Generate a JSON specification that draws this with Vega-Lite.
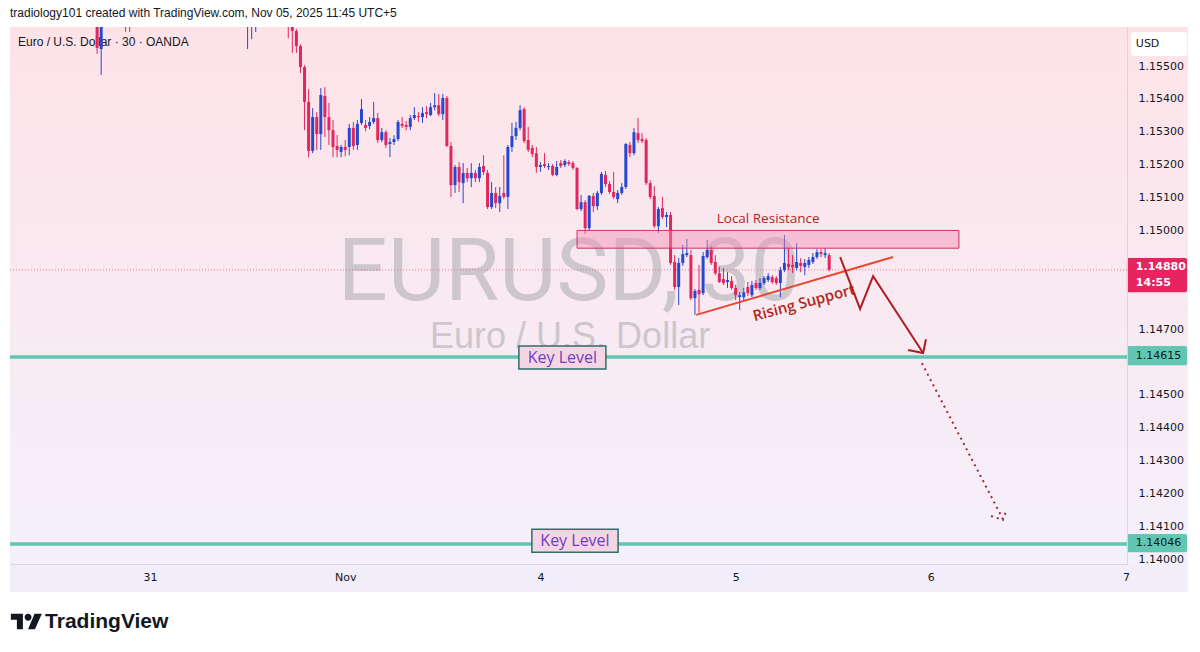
{
  "$schema": "https://vega.github.io/schema/vega-lite/v6.json",
  "width": 1117,
  "height": 537,
  "autosize": {"type": "none"},
  "padding": {"left": 10, "top": 27, "right": 73, "bottom": 88},
  "background": "#ffffff",
  "config": {"view": {"stroke": null}},
  "title": {"text": "tradiology101 created with TradingView.com, Nov 05, 2025 11:45 UTC+5", "anchor": "start", "frame": "group", "offset": 7, "fontSize": 12, "fontWeight": "normal", "font": "Liberation Sans", "color": "#131722"},
  "datasets": {
    "candles": [
      {"i": -13, "o": 1.1564, "h": 1.1566, "l": 1.15537, "c": 1.15555},
      {"i": -12, "o": 1.15552, "h": 1.1566, "l": 1.15473, "c": 1.1564},
      {"i": -6, "o": 1.1567, "h": 1.1569, "l": 1.15604, "c": 1.1565},
      {"i": -5, "o": 1.1568, "h": 1.157, "l": 1.15604, "c": 1.1566},
      {"i": 24, "o": 1.1564, "h": 1.1569, "l": 1.15552, "c": 1.1567},
      {"i": 25, "o": 1.1565, "h": 1.157, "l": 1.15582, "c": 1.1568},
      {"i": 26, "o": 1.1566, "h": 1.157, "l": 1.15604, "c": 1.1568},
      {"i": 34, "o": 1.1568, "h": 1.157, "l": 1.15585, "c": 1.15622},
      {"i": 35, "o": 1.15622, "h": 1.15634, "l": 1.1554, "c": 1.15607},
      {"i": 36, "o": 1.15607, "h": 1.15613, "l": 1.1554, "c": 1.15561},
      {"i": 37, "o": 1.15561, "h": 1.15567, "l": 1.15479, "c": 1.15497},
      {"i": 38, "o": 1.15497, "h": 1.15503, "l": 1.15305, "c": 1.15391},
      {"i": 39, "o": 1.15391, "h": 1.1543, "l": 1.15223, "c": 1.15242},
      {"i": 40, "o": 1.15242, "h": 1.15372, "l": 1.15235, "c": 1.15345},
      {"i": 41, "o": 1.15345, "h": 1.1536, "l": 1.15245, "c": 1.15293},
      {"i": 42, "o": 1.15293, "h": 1.15433, "l": 1.15245, "c": 1.15412},
      {"i": 43, "o": 1.15409, "h": 1.15436, "l": 1.15284, "c": 1.15345},
      {"i": 44, "o": 1.15345, "h": 1.15388, "l": 1.1526, "c": 1.15305},
      {"i": 45, "o": 1.15305, "h": 1.15336, "l": 1.15223, "c": 1.15254},
      {"i": 46, "o": 1.15257, "h": 1.1529, "l": 1.15223, "c": 1.15245},
      {"i": 47, "o": 1.15239, "h": 1.1526, "l": 1.15223, "c": 1.15254},
      {"i": 48, "o": 1.15254, "h": 1.15275, "l": 1.15226, "c": 1.15245},
      {"i": 49, "o": 1.15254, "h": 1.15324, "l": 1.15229, "c": 1.15312},
      {"i": 50, "o": 1.15312, "h": 1.1533, "l": 1.15245, "c": 1.15257},
      {"i": 51, "o": 1.1526, "h": 1.15336, "l": 1.15245, "c": 1.15324},
      {"i": 52, "o": 1.15327, "h": 1.154, "l": 1.15321, "c": 1.15369},
      {"i": 53, "o": 1.15321, "h": 1.15336, "l": 1.15302, "c": 1.15312},
      {"i": 54, "o": 1.15318, "h": 1.15345, "l": 1.15308, "c": 1.1533},
      {"i": 55, "o": 1.1533, "h": 1.15391, "l": 1.15324, "c": 1.15342},
      {"i": 56, "o": 1.15342, "h": 1.15357, "l": 1.15266, "c": 1.15275},
      {"i": 57, "o": 1.15275, "h": 1.15312, "l": 1.15269, "c": 1.15299},
      {"i": 58, "o": 1.15299, "h": 1.15305, "l": 1.15251, "c": 1.1526},
      {"i": 59, "o": 1.15263, "h": 1.15281, "l": 1.15223, "c": 1.15269},
      {"i": 60, "o": 1.15269, "h": 1.1529, "l": 1.1526, "c": 1.15278},
      {"i": 61, "o": 1.15278, "h": 1.15336, "l": 1.15272, "c": 1.1533},
      {"i": 62, "o": 1.15324, "h": 1.15345, "l": 1.15312, "c": 1.15318},
      {"i": 63, "o": 1.15321, "h": 1.15333, "l": 1.15305, "c": 1.15315},
      {"i": 64, "o": 1.15315, "h": 1.15351, "l": 1.15305, "c": 1.15342},
      {"i": 65, "o": 1.15342, "h": 1.15375, "l": 1.15336, "c": 1.15351},
      {"i": 66, "o": 1.15348, "h": 1.1536, "l": 1.1533, "c": 1.15345},
      {"i": 67, "o": 1.15345, "h": 1.15375, "l": 1.15327, "c": 1.15357},
      {"i": 68, "o": 1.1536, "h": 1.15378, "l": 1.15342, "c": 1.15354},
      {"i": 69, "o": 1.15351, "h": 1.15388, "l": 1.15348, "c": 1.15375},
      {"i": 70, "o": 1.15375, "h": 1.15418, "l": 1.15366, "c": 1.15381},
      {"i": 71, "o": 1.15381, "h": 1.15415, "l": 1.15348, "c": 1.15354},
      {"i": 72, "o": 1.15354, "h": 1.15415, "l": 1.15336, "c": 1.15403},
      {"i": 73, "o": 1.15403, "h": 1.15409, "l": 1.15254, "c": 1.15257},
      {"i": 74, "o": 1.15257, "h": 1.15269, "l": 1.15102, "c": 1.15138},
      {"i": 75, "o": 1.15138, "h": 1.15199, "l": 1.15114, "c": 1.15193},
      {"i": 76, "o": 1.15193, "h": 1.15208, "l": 1.15117, "c": 1.15147},
      {"i": 77, "o": 1.15144, "h": 1.15205, "l": 1.15083, "c": 1.15175},
      {"i": 78, "o": 1.15175, "h": 1.1519, "l": 1.15147, "c": 1.15159},
      {"i": 79, "o": 1.15159, "h": 1.15205, "l": 1.15132, "c": 1.15175},
      {"i": 80, "o": 1.15175, "h": 1.15184, "l": 1.15147, "c": 1.15159},
      {"i": 81, "o": 1.15159, "h": 1.15205, "l": 1.15147, "c": 1.15193},
      {"i": 82, "o": 1.15196, "h": 1.15229, "l": 1.15169, "c": 1.15178},
      {"i": 83, "o": 1.15175, "h": 1.15184, "l": 1.15065, "c": 1.15071},
      {"i": 84, "o": 1.15071, "h": 1.15147, "l": 1.15065, "c": 1.15114},
      {"i": 85, "o": 1.15114, "h": 1.15132, "l": 1.15068, "c": 1.15083},
      {"i": 86, "o": 1.15083, "h": 1.15132, "l": 1.15056, "c": 1.15105},
      {"i": 87, "o": 1.15114, "h": 1.15229, "l": 1.15095, "c": 1.15102},
      {"i": 88, "o": 1.15102, "h": 1.1526, "l": 1.15065, "c": 1.15254},
      {"i": 89, "o": 1.15254, "h": 1.15327, "l": 1.15239, "c": 1.15287},
      {"i": 90, "o": 1.15287, "h": 1.1533, "l": 1.15275, "c": 1.15312},
      {"i": 91, "o": 1.15312, "h": 1.15381, "l": 1.15305, "c": 1.15366},
      {"i": 92, "o": 1.15369, "h": 1.15375, "l": 1.15266, "c": 1.15272},
      {"i": 93, "o": 1.15275, "h": 1.15315, "l": 1.15239, "c": 1.15245},
      {"i": 94, "o": 1.15251, "h": 1.1526, "l": 1.15223, "c": 1.15232},
      {"i": 95, "o": 1.15235, "h": 1.15254, "l": 1.15175, "c": 1.15193},
      {"i": 96, "o": 1.15193, "h": 1.15208, "l": 1.15178, "c": 1.15199},
      {"i": 97, "o": 1.15202, "h": 1.15235, "l": 1.1519, "c": 1.15196},
      {"i": 98, "o": 1.15193, "h": 1.15205, "l": 1.15184, "c": 1.15196},
      {"i": 99, "o": 1.15196, "h": 1.15202, "l": 1.15165, "c": 1.15169},
      {"i": 100, "o": 1.15169, "h": 1.15211, "l": 1.15165, "c": 1.15193},
      {"i": 101, "o": 1.15205, "h": 1.15214, "l": 1.1519, "c": 1.15196},
      {"i": 102, "o": 1.15199, "h": 1.15217, "l": 1.15193, "c": 1.15211},
      {"i": 103, "o": 1.15208, "h": 1.15214, "l": 1.15196, "c": 1.15202},
      {"i": 104, "o": 1.15205, "h": 1.15211, "l": 1.15184, "c": 1.1519},
      {"i": 105, "o": 1.1519, "h": 1.15193, "l": 1.15062, "c": 1.15065},
      {"i": 106, "o": 1.15065, "h": 1.15108, "l": 1.15059, "c": 1.15086},
      {"i": 107, "o": 1.15086, "h": 1.15092, "l": 1.14989, "c": 1.15007},
      {"i": 108, "o": 1.15007, "h": 1.15108, "l": 1.15001, "c": 1.15105},
      {"i": 109, "o": 1.15105, "h": 1.15114, "l": 1.15056, "c": 1.15074},
      {"i": 110, "o": 1.15074, "h": 1.1512, "l": 1.15062, "c": 1.15114},
      {"i": 111, "o": 1.15114, "h": 1.15178, "l": 1.15108, "c": 1.15172},
      {"i": 112, "o": 1.15169, "h": 1.15181, "l": 1.15132, "c": 1.15141},
      {"i": 113, "o": 1.15141, "h": 1.1515, "l": 1.15111, "c": 1.15117},
      {"i": 114, "o": 1.15117, "h": 1.15178, "l": 1.15095, "c": 1.15102},
      {"i": 115, "o": 1.15095, "h": 1.15123, "l": 1.15083, "c": 1.15114},
      {"i": 116, "o": 1.15114, "h": 1.15144, "l": 1.15108, "c": 1.15132},
      {"i": 117, "o": 1.15132, "h": 1.15266, "l": 1.15126, "c": 1.15263},
      {"i": 118, "o": 1.1526, "h": 1.15269, "l": 1.15223, "c": 1.15235},
      {"i": 119, "o": 1.15235, "h": 1.15312, "l": 1.15229, "c": 1.15299},
      {"i": 120, "o": 1.15296, "h": 1.15342, "l": 1.15266, "c": 1.15275},
      {"i": 121, "o": 1.15278, "h": 1.15296, "l": 1.15266, "c": 1.15272},
      {"i": 122, "o": 1.15275, "h": 1.15281, "l": 1.15138, "c": 1.15144},
      {"i": 123, "o": 1.15144, "h": 1.15153, "l": 1.15095, "c": 1.15102},
      {"i": 124, "o": 1.15105, "h": 1.15135, "l": 1.15007, "c": 1.15013},
      {"i": 125, "o": 1.15013, "h": 1.15071, "l": 1.14992, "c": 1.15065},
      {"i": 126, "o": 1.15068, "h": 1.15102, "l": 1.15035, "c": 1.15041},
      {"i": 127, "o": 1.15041, "h": 1.15056, "l": 1.1501, "c": 1.15047},
      {"i": 128, "o": 1.15047, "h": 1.15056, "l": 1.14895, "c": 1.14901},
      {"i": 129, "o": 1.14904, "h": 1.14925, "l": 1.14819, "c": 1.14828},
      {"i": 130, "o": 1.14828, "h": 1.14916, "l": 1.14773, "c": 1.14901},
      {"i": 131, "o": 1.14901, "h": 1.14956, "l": 1.14892, "c": 1.14928},
      {"i": 132, "o": 1.14925, "h": 1.14974, "l": 1.14919, "c": 1.14931},
      {"i": 133, "o": 1.14925, "h": 1.1494, "l": 1.14788, "c": 1.14794},
      {"i": 134, "o": 1.14794, "h": 1.14822, "l": 1.14743, "c": 1.14816},
      {"i": 135, "o": 1.14819, "h": 1.14895, "l": 1.14749, "c": 1.14806},
      {"i": 136, "o": 1.14809, "h": 1.14934, "l": 1.14803, "c": 1.14922},
      {"i": 137, "o": 1.14919, "h": 1.14971, "l": 1.14913, "c": 1.1494},
      {"i": 138, "o": 1.1494, "h": 1.14952, "l": 1.14895, "c": 1.14901},
      {"i": 139, "o": 1.14904, "h": 1.14925, "l": 1.14864, "c": 1.1487},
      {"i": 140, "o": 1.1487, "h": 1.14889, "l": 1.1484, "c": 1.14843},
      {"i": 141, "o": 1.14852, "h": 1.14886, "l": 1.14834, "c": 1.1484},
      {"i": 142, "o": 1.14843, "h": 1.14873, "l": 1.14825, "c": 1.14849},
      {"i": 143, "o": 1.14846, "h": 1.14861, "l": 1.14819, "c": 1.14825},
      {"i": 144, "o": 1.14825, "h": 1.14834, "l": 1.14788, "c": 1.14803},
      {"i": 145, "o": 1.14797, "h": 1.14812, "l": 1.14758, "c": 1.14803},
      {"i": 146, "o": 1.14797, "h": 1.14825, "l": 1.14788, "c": 1.14812},
      {"i": 147, "o": 1.14828, "h": 1.14843, "l": 1.148, "c": 1.14809},
      {"i": 148, "o": 1.14803, "h": 1.14846, "l": 1.14797, "c": 1.14834},
      {"i": 149, "o": 1.1484, "h": 1.14849, "l": 1.14819, "c": 1.14825},
      {"i": 150, "o": 1.14825, "h": 1.14855, "l": 1.14819, "c": 1.1484},
      {"i": 151, "o": 1.1484, "h": 1.14861, "l": 1.14834, "c": 1.14855},
      {"i": 152, "o": 1.14849, "h": 1.1487, "l": 1.14843, "c": 1.14861},
      {"i": 153, "o": 1.14858, "h": 1.14864, "l": 1.14837, "c": 1.14843},
      {"i": 154, "o": 1.14855, "h": 1.14861, "l": 1.14834, "c": 1.1484},
      {"i": 155, "o": 1.1484, "h": 1.14889, "l": 1.14797, "c": 1.14879},
      {"i": 156, "o": 1.14879, "h": 1.14986, "l": 1.14873, "c": 1.14901},
      {"i": 157, "o": 1.14898, "h": 1.14946, "l": 1.14879, "c": 1.14889},
      {"i": 158, "o": 1.14895, "h": 1.14925, "l": 1.1487, "c": 1.14889},
      {"i": 159, "o": 1.14886, "h": 1.14962, "l": 1.14879, "c": 1.14904},
      {"i": 160, "o": 1.14901, "h": 1.14916, "l": 1.14873, "c": 1.14892},
      {"i": 161, "o": 1.14889, "h": 1.14913, "l": 1.14864, "c": 1.14901},
      {"i": 162, "o": 1.14895, "h": 1.14919, "l": 1.14886, "c": 1.1491},
      {"i": 163, "o": 1.14904, "h": 1.14931, "l": 1.14898, "c": 1.14919},
      {"i": 164, "o": 1.14919, "h": 1.14943, "l": 1.14913, "c": 1.14934},
      {"i": 165, "o": 1.14934, "h": 1.14943, "l": 1.14919, "c": 1.14928},
      {"i": 166, "o": 1.14925, "h": 1.14946, "l": 1.14916, "c": 1.14931},
      {"i": 167, "o": 1.14925, "h": 1.14931, "l": 1.14875, "c": 1.1488}
    ]
  },
  "layer": [
    {
      "data": {"values": [{"x1": -34.42, "x2": 255.2, "y1": 1.13985, "y2": 1.15619}]},
      "mark": {"type": "rect", "color": {"gradient": "linear", "x1": 0, "y1": 0, "x2": 0, "y2": 1, "stops": [{"offset": 0, "color": "#fde3e8"}, {"offset": 0.5, "color": "#f9e9f1"}, {"offset": 1, "color": "#f4f0fb"}]}},
      "encoding": {
        "x": {"field": "x1", "type": "quantitative", "scale": {"domain": [-34.42, 240.23], "nice": false, "zero": false, "padding": 0},
          "axis": {"orient": "bottom", "title": null, "values": [0, 48, 96, 144, 192, 240], "labelExpr": "datum.value==0?'31':datum.value==48?'Nov':datum.value==96?'4':datum.value==144?'5':datum.value==192?'6':'7'", "labelFont": "DejaVu Sans", "labelFontSize": 11, "labelColor": "#131722", "labelPadding": 7, "ticks": false, "grid": false, "domainColor": "#d9d3e3", "labelFlush": false, "zindex": 1}},
        "x2": {"field": "x2"},
        "y": {"field": "y1", "type": "quantitative", "scale": {"domain": [1.13985, 1.15619], "nice": false, "zero": false, "padding": 0},
          "axis": {"orient": "right", "title": null, "values": [1.14, 1.141, 1.142, 1.143, 1.144, 1.145, 1.147, 1.15, 1.151, 1.152, 1.153, 1.154, 1.155], "format": ".5f", "labelFont": "DejaVu Sans", "labelFontSize": 11, "labelColor": "#131722", "labelPadding": 11, "ticks": false, "grid": false, "domainColor": "#d9d3e3", "labelFlush": false, "labelOverlap": false, "zindex": 1}},
        "y2": {"field": "y2"}
      }
    },
    {
      "data": {"values": [{"x1": -34.42, "x2": 255.2, "y1": 1.139, "y2": 1.13985}]},
      "mark": {"type": "rect", "color": "#f2edfa"},
      "encoding": {"x": {"field": "x1", "type": "quantitative"}, "x2": {"field": "x2"}, "y": {"field": "y1", "type": "quantitative"}, "y2": {"field": "y2"}}
    },
    {
      "data": {"values": [{"x": 103.0, "y": 1.14788, "t": "EURUSD, 30"}]},
      "mark": {"type": "text", "font": "Roboto", "fontSize": 88, "color": "#cdc6cd", "align": "center", "baseline": "alphabetic"},
      "encoding": {"x": {"field": "x", "type": "quantitative"}, "y": {"field": "y", "type": "quantitative"}, "text": {"field": "t"}}
    },
    {
      "data": {"values": [{"x": 103.3, "y": 1.14676, "t": "Euro / U.S. Dollar"}]},
      "mark": {"type": "text", "font": "Liberation Sans", "fontSize": 36, "color": "#cdc6cd", "align": "center", "baseline": "middle"},
      "encoding": {"x": {"field": "x", "type": "quantitative"}, "y": {"field": "y", "type": "quantitative"}, "text": {"field": "t"}}
    },
    {
      "data": {"values": [{"x": -32.46, "y": 1.15573, "t": "Euro / U.S. Dollar · 30 · OANDA"}]},
      "mark": {"type": "text", "font": "Liberation Sans", "fontSize": 12, "color": "#131722", "align": "left", "baseline": "middle"},
      "encoding": {"x": {"field": "x", "type": "quantitative"}, "y": {"field": "y", "type": "quantitative"}, "text": {"field": "t"}}
    },
    {
      "data": {"values": [{"p": 1.14615}, {"p": 1.14046}]},
      "mark": {"type": "rule", "color": "#62c6b2", "strokeWidth": 3.5},
      "encoding": {"y": {"field": "p", "type": "quantitative"}}
    },
    {
      "data": {"values": [{"p": 1.1488}]},
      "mark": {"type": "rule", "color": "#e5798f", "strokeWidth": 1, "strokeDash": [1, 2]},
      "encoding": {"y": {"field": "p", "type": "quantitative"}}
    },
    {
      "data": {"name": "candles"},
      "mark": {"type": "rule", "strokeWidth": 1, "clip": true},
      "encoding": {
        "x": {"field": "i", "type": "quantitative"},
        "y": {"field": "l", "type": "quantitative"},
        "y2": {"field": "h"},
        "color": {"condition": {"test": "datum.c >= datum.o", "value": "#2548cf"}, "value": "#e3255f"}
      }
    },
    {
      "data": {"name": "candles"},
      "mark": {"type": "bar", "size": 3, "clip": true},
      "encoding": {
        "x": {"field": "i", "type": "quantitative"},
        "y": {"field": "o", "type": "quantitative"},
        "y2": {"field": "c"},
        "color": {"condition": {"test": "datum.c >= datum.o", "value": "#2548cf"}, "value": "#e3255f"}
      }
    },
    {
      "data": {"values": [{"x1": 105.0, "x2": 198.9, "y1": 1.14946, "y2": 1.15}]},
      "mark": {"type": "rect", "fill": "#f48fb1", "fillOpacity": 0.45, "stroke": "#cc3366", "strokeWidth": 1},
      "encoding": {"x": {"field": "x1", "type": "quantitative"}, "x2": {"field": "x2"}, "y": {"field": "y1", "type": "quantitative"}, "y2": {"field": "y2"}}
    },
    {
      "data": {"values": [{"x": 152.0, "y": 1.15034, "t": "Local Resistance"}]},
      "mark": {"type": "text", "font": "Open Sans", "fontSize": 13.5, "color": "#b3261e", "align": "center", "baseline": "middle"},
      "encoding": {"x": {"field": "x", "type": "quantitative"}, "y": {"field": "y", "type": "quantitative"}, "text": {"field": "t"}}
    },
    {
      "data": {"values": [{"x": 134.3, "y": 1.14743, "k": 1}, {"x": 182.7, "y": 1.14919, "k": 2}]},
      "mark": {"type": "line", "color": "#e8472f", "strokeWidth": 2},
      "encoding": {"x": {"field": "x", "type": "quantitative"}, "y": {"field": "y", "type": "quantitative"}, "order": {"field": "k"}}
    },
    {
      "data": {"values": [{"x": 160.8, "y": 1.1478, "t": "Rising Support"}]},
      "mark": {"type": "text", "font": "Open Sans", "fontSize": 15, "fontWeight": 600, "color": "#b3261e", "align": "center", "baseline": "middle", "angle": -15},
      "encoding": {"x": {"field": "x", "type": "quantitative"}, "y": {"field": "y", "type": "quantitative"}, "text": {"field": "t"}}
    },
    {
      "data": {"values": [
        {"s": "a", "k": 1, "x": 169.7, "y": 1.14919},
        {"s": "a", "k": 2, "x": 174.6, "y": 1.14761},
        {"s": "a", "k": 3, "x": 177.8, "y": 1.14861},
        {"s": "a", "k": 4, "x": 190.1, "y": 1.14627},
        {"s": "b", "k": 1, "x": 186.4, "y": 1.14636},
        {"s": "b", "k": 2, "x": 190.1, "y": 1.14627},
        {"s": "b", "k": 3, "x": 190.8, "y": 1.14669}
      ]},
      "mark": {"type": "line", "color": "#b01c22", "strokeWidth": 2},
      "encoding": {"x": {"field": "x", "type": "quantitative"}, "y": {"field": "y", "type": "quantitative"}, "detail": {"field": "s"}, "order": {"field": "k"}}
    },
    {
      "data": {"values": [
        {"s": "a", "k": 1, "x": 189.8, "y": 1.14596},
        {"s": "a", "k": 2, "x": 209.7, "y": 1.14122},
        {"s": "b", "k": 1, "x": 206.8, "y": 1.14131},
        {"s": "b", "k": 2, "x": 209.7, "y": 1.14119},
        {"s": "b", "k": 3, "x": 210.7, "y": 1.14152}
      ]},
      "mark": {"type": "line", "color": "#a02a32", "strokeWidth": 2, "strokeDash": [2, 4]},
      "encoding": {"x": {"field": "x", "type": "quantitative"}, "y": {"field": "y", "type": "quantitative"}, "detail": {"field": "s"}, "order": {"field": "k"}}
    },
    {
      "data": {"values": [{"x1": 90.7, "x2": 112.1, "y1": 1.14578, "y2": 1.14648}, {"x1": 93.9, "x2": 115.1, "y1": 1.14021, "y2": 1.14091}]},
      "mark": {"type": "rect", "fill": "#f5d5e3", "stroke": "#2e6e6a", "strokeWidth": 1.5},
      "encoding": {"x": {"field": "x1", "type": "quantitative"}, "x2": {"field": "x2"}, "y": {"field": "y1", "type": "quantitative"}, "y2": {"field": "y2"}}
    },
    {
      "data": {"values": [{"x": 101.4, "y": 1.14613, "t": "Key Level"}, {"x": 104.5, "y": 1.14056, "t": "Key Level"}]},
      "mark": {"type": "text", "font": "Open Sans", "fontSize": 16, "fontWeight": 500, "color": "#6b3fc4", "align": "center", "baseline": "middle"},
      "encoding": {"x": {"field": "x", "type": "quantitative"}, "y": {"field": "y", "type": "quantitative"}, "text": {"field": "t"}}
    },
    {
      "data": {"values": [{"x1": 241.2, "x2": 255.0, "y1": 1.15531, "y2": 1.15604}]},
      "mark": {"type": "rect", "fill": "#ffffff", "cornerRadius": 3},
      "encoding": {"x": {"field": "x1", "type": "quantitative"}, "x2": {"field": "x2"}, "y": {"field": "y1", "type": "quantitative"}, "y2": {"field": "y2"}}
    },
    {
      "data": {"values": [{"x": 242.4, "y": 1.15567, "t": "USD"}]},
      "mark": {"type": "text", "font": "DejaVu Sans", "fontSize": 11, "color": "#131722", "align": "left", "baseline": "middle"},
      "encoding": {"x": {"field": "x", "type": "quantitative"}, "y": {"field": "y", "type": "quantitative"}, "text": {"field": "t"}}
    },
    {
      "data": {"values": [{"x1": 240.2, "x2": 255.0, "y1": 1.14812, "y2": 1.14916}]},
      "mark": {"type": "rect", "fill": "#e6245f", "cornerRadius": 2},
      "encoding": {"x": {"field": "x1", "type": "quantitative"}, "x2": {"field": "x2"}, "y": {"field": "y1", "type": "quantitative"}, "y2": {"field": "y2"}}
    },
    {
      "data": {"values": [{"x": 242.4, "y": 1.14889, "t": "1.14880"}, {"x": 242.4, "y": 1.1484, "t": "14:55"}]},
      "mark": {"type": "text", "font": "DejaVu Sans", "fontSize": 11, "fontWeight": "bold", "color": "#ffffff", "align": "left", "baseline": "middle"},
      "encoding": {"x": {"field": "x", "type": "quantitative"}, "y": {"field": "y", "type": "quantitative"}, "text": {"field": "t"}}
    },
    {
      "data": {"values": [{"x1": 240.2, "x2": 255.0, "y1": 1.1459, "y2": 1.14648}, {"x1": 240.2, "x2": 255.0, "y1": 1.14021, "y2": 1.14076}]},
      "mark": {"type": "rect", "fill": "#62c6b2", "cornerRadius": 2},
      "encoding": {"x": {"field": "x1", "type": "quantitative"}, "x2": {"field": "x2"}, "y": {"field": "y1", "type": "quantitative"}, "y2": {"field": "y2"}}
    },
    {
      "data": {"values": [{"x": 242.4, "y": 1.14619, "t": "1.14615"}, {"x": 242.4, "y": 1.14049, "t": "1.14046"}]},
      "mark": {"type": "text", "font": "DejaVu Sans", "fontSize": 11, "color": "#131722", "align": "left", "baseline": "middle"},
      "encoding": {"x": {"field": "x", "type": "quantitative"}, "y": {"field": "y", "type": "quantitative"}, "text": {"field": "t"}}
    },
    {
      "data": {"values": [{"x": -30.4, "y": 1.1381}]},
      "mark": {"type": "point", "shape": "M-0.222,0.5H-0.611V-0.111H-1V-0.5H-0.222Z M-0.111,-0.278a0.222,0.222 0 1,0 0.444,0a0.222,0.222 0 1,0 -0.444,0Z M0.556,0.5H0.111L0.528,-0.5H1Z", "filled": true, "color": "#131722", "opacity": 1, "size": 961},
      "encoding": {"x": {"field": "x", "type": "quantitative"}, "y": {"field": "y", "type": "quantitative"}}
    },
    {
      "data": {"values": [{"x": -25.8, "y": 1.13809, "t": "TradingView"}]},
      "mark": {"type": "text", "font": "Liberation Sans", "fontSize": 21, "fontWeight": "bold", "color": "#131722", "align": "left", "baseline": "middle"},
      "encoding": {"x": {"field": "x", "type": "quantitative"}, "y": {"field": "y", "type": "quantitative"}, "text": {"field": "t"}}
    }
  ]
}
